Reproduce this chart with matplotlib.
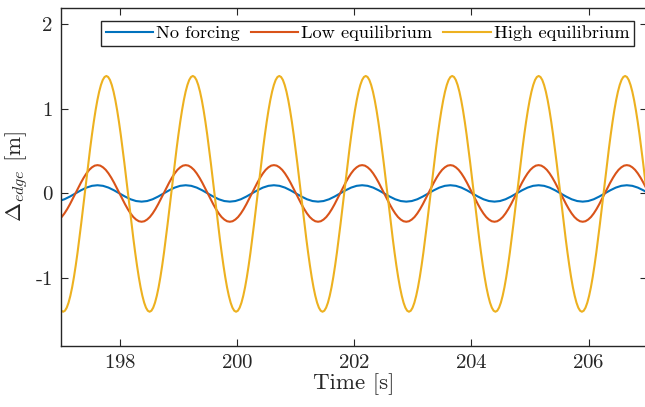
import numpy as np
import matplotlib
matplotlib.use("Agg")
import matplotlib.pyplot as plt

t_high_start = 196.9735   # s, first sample of the high-equilibrium trace
t_high_step = 0.030729    # s
high_eq = [
    -1.352, -1.388,
    -1.400, -1.388, -1.352, -1.293, -1.212, -1.111, -0.990, -0.852, -0.700, -0.536, -0.362, -0.183, 0.0, 0.181, 0.360, 0.532, 0.695, 0.846, 0.983, 1.103, 1.204, 1.284, 1.343, 1.378,
    1.390, 1.378, 1.343, 1.284, 1.204, 1.103, 0.983, 0.846, 0.695, 0.532, 0.360, 0.181, 0.0, -0.183, -0.362, -0.536, -0.700, -0.852, -0.990, -1.111, -1.212, -1.293, -1.352, -1.388,
    -1.400, -1.388, -1.352, -1.293, -1.212, -1.111, -0.990, -0.852, -0.700, -0.536, -0.362, -0.183, 0.0, 0.181, 0.360, 0.532, 0.695, 0.846, 0.983, 1.103, 1.204, 1.284, 1.343, 1.378,
    1.390, 1.378, 1.343, 1.284, 1.204, 1.103, 0.983, 0.846, 0.695, 0.532, 0.360, 0.181, 0.0, -0.183, -0.362, -0.536, -0.700, -0.852, -0.990, -1.111, -1.212, -1.293, -1.352, -1.388,
    -1.400, -1.388, -1.352, -1.293, -1.212, -1.111, -0.990, -0.852, -0.700, -0.536, -0.362, -0.183, 0.0, 0.181, 0.360, 0.532, 0.695, 0.846, 0.983, 1.103, 1.204, 1.284, 1.343, 1.378,
    1.390, 1.378, 1.343, 1.284, 1.204, 1.103, 0.983, 0.846, 0.695, 0.532, 0.360, 0.181, 0.0, -0.183, -0.362, -0.536, -0.700, -0.852, -0.990, -1.111, -1.212, -1.293, -1.352, -1.388,
    -1.400, -1.388, -1.352, -1.293, -1.212, -1.111, -0.990, -0.852, -0.700, -0.536, -0.362, -0.183, 0.0, 0.181, 0.360, 0.532, 0.695, 0.846, 0.983, 1.103, 1.204, 1.284, 1.343, 1.378,
    1.390, 1.378, 1.343, 1.284, 1.204, 1.103, 0.983, 0.846, 0.695, 0.532, 0.360, 0.181, 0.0, -0.183, -0.362, -0.536, -0.700, -0.852, -0.990, -1.111, -1.212, -1.293, -1.352, -1.388,
    -1.400, -1.388, -1.352, -1.293, -1.212, -1.111, -0.990, -0.852, -0.700, -0.536, -0.362, -0.183, 0.0, 0.181, 0.360, 0.532, 0.695, 0.846, 0.983, 1.103, 1.204, 1.284, 1.343, 1.378,
    1.390, 1.378, 1.343, 1.284, 1.204, 1.103, 0.983, 0.846, 0.695, 0.532, 0.360, 0.181, 0.0, -0.183, -0.362, -0.536, -0.700, -0.852, -0.990, -1.111, -1.212, -1.293, -1.352, -1.388,
    -1.400, -1.388, -1.352, -1.293, -1.212, -1.111, -0.990, -0.852, -0.700, -0.536, -0.362, -0.183, 0.0, 0.181, 0.360, 0.532, 0.695, 0.846, 0.983, 1.103, 1.204, 1.284, 1.343, 1.378,
    1.390, 1.378, 1.343, 1.284, 1.204, 1.103, 0.983, 0.846, 0.695, 0.532, 0.360, 0.181, 0.0, -0.183, -0.362, -0.536, -0.700, -0.852, -0.990, -1.111, -1.212, -1.293, -1.352, -1.388,
    -1.400, -1.388, -1.352, -1.293, -1.212, -1.111, -0.990, -0.852, -0.700, -0.536, -0.362, -0.183, 0.0, 0.181, 0.360, 0.532, 0.695, 0.846, 0.983, 1.103, 1.204, 1.284, 1.343, 1.378,
    1.390, 1.378, 1.343, 1.284, 1.204, 1.103, 0.983, 0.846, 0.695, 0.532, 0.360, 0.181, 0.0, -0.183, -0.362, -0.536, -0.700, -0.852, -0.990, -1.111, -1.212, -1.293, -1.352, -1.388,
    -1.400, -1.388, -1.352, -1.293, -1.212, -1.111, -0.990, -0.852, -0.700, -0.536, -0.362, -0.183, 0.0, 0.181, 0.360, 0.532, 0.695, 0.846, 0.983, 1.103, 1.204, 1.284, 1.343, 1.378,
    1.390, 1.378, 1.343, 1.284, 1.204, 1.103, 0.983, 0.846, 0.695, 0.532, 0.360, 0.181, 0.0, -0.183, -0.362,
]

t_low_start = 196.9626    # s, first sample of the low-equilibrium trace
t_low_step = 0.0470315    # s
low_eq = [
    -0.309, -0.279, -0.237, -0.186, -0.128, -0.065, 0.0, 0.065, 0.128, 0.186, 0.237, 0.279, 0.309, 0.329,
    0.335, 0.329, 0.309, 0.279, 0.237, 0.186, 0.128, 0.065, 0.0, -0.065, -0.128, -0.186, -0.237, -0.279, -0.309, -0.329,
    -0.335, -0.329, -0.309, -0.279, -0.237, -0.186, -0.128, -0.065, 0.0, 0.065, 0.128, 0.186, 0.237, 0.279, 0.309, 0.329,
    0.335, 0.329, 0.309, 0.279, 0.237, 0.186, 0.128, 0.065, 0.0, -0.065, -0.128, -0.186, -0.237, -0.279, -0.309, -0.329,
    -0.335, -0.329, -0.309, -0.279, -0.237, -0.186, -0.128, -0.065, 0.0, 0.065, 0.128, 0.186, 0.237, 0.279, 0.309, 0.329,
    0.335, 0.329, 0.309, 0.279, 0.237, 0.186, 0.128, 0.065, 0.0, -0.065, -0.128, -0.186, -0.237, -0.279, -0.309, -0.329,
    -0.335, -0.329, -0.309, -0.279, -0.237, -0.186, -0.128, -0.065, 0.0, 0.065, 0.128, 0.186, 0.237, 0.279, 0.309, 0.329,
    0.335, 0.329, 0.309, 0.279, 0.237, 0.186, 0.128, 0.065, 0.0, -0.065, -0.128, -0.186, -0.237, -0.279, -0.309, -0.329,
    -0.335, -0.329, -0.309, -0.279, -0.237, -0.186, -0.128, -0.065, 0.0, 0.065, 0.128, 0.186, 0.237, 0.279, 0.309, 0.329,
    0.335, 0.329, 0.309, 0.279, 0.237, 0.186, 0.128, 0.065, 0.0, -0.065, -0.128, -0.186, -0.237, -0.279, -0.309, -0.329,
    -0.335, -0.329, -0.309, -0.279, -0.237, -0.186, -0.128, -0.065, 0.0, 0.065, 0.128, 0.186, 0.237, 0.279, 0.309, 0.329,
    0.335, 0.329, 0.309, 0.279, 0.237, 0.186, 0.128, 0.065, 0.0, -0.065, -0.128, -0.186, -0.237, -0.279, -0.309, -0.329,
    -0.335, -0.329, -0.309, -0.279, -0.237, -0.186, -0.128, -0.065, 0.0, 0.065, 0.128, 0.186, 0.237, 0.279, 0.309, 0.329,
    0.335, 0.329, 0.309, 0.279, 0.237, 0.186, 0.128, 0.065, 0.0, -0.065, -0.128,
]

t_none_start = 196.9626   # s, first sample of the no-forcing trace
t_none_step = 0.094063    # s
no_forcing = [
    -0.090, -0.069, -0.037, 0.0, 0.037, 0.069, 0.090,
    0.097, 0.090, 0.069, 0.037, 0.0, -0.037, -0.069, -0.090, -0.097, -0.090, -0.069, -0.037, 0.0, 0.037, 0.069, 0.090,
    0.097, 0.090, 0.069, 0.037, 0.0, -0.037, -0.069, -0.090, -0.097, -0.090, -0.069, -0.037, 0.0, 0.037, 0.069, 0.090,
    0.097, 0.090, 0.069, 0.037, 0.0, -0.037, -0.069, -0.090, -0.097, -0.090, -0.069, -0.037, 0.0, 0.037, 0.069, 0.090,
    0.097, 0.090, 0.069, 0.037, 0.0, -0.037, -0.069, -0.090, -0.097, -0.090, -0.069, -0.037, 0.0, 0.037, 0.069, 0.090,
    0.097, 0.090, 0.069, 0.037, 0.0, -0.037, -0.069, -0.090, -0.097, -0.090, -0.069, -0.037, 0.0, 0.037, 0.069, 0.090,
    0.097, 0.090, 0.069, 0.037, 0.0, -0.037, -0.069, -0.090, -0.097, -0.090, -0.069, -0.037, 0.0, 0.037, 0.069, 0.090,
    0.097, 0.090, 0.069, 0.037, 0.0, -0.037,
]

labels = ["No forcing", "Low equilibrium", "High equilibrium"]
colors = ["#0072BD", "#D95319", "#EDB120"]
xticks = [198, 200, 202, 204, 206]
yticks = [-1, 0, 1, 2]
ytick_labels = ["-1", "0", "1", "2"]

t_high = t_high_start + t_high_step * np.arange(len(high_eq))
t_low = t_low_start + t_low_step * np.arange(len(low_eq))
t_none = t_none_start + t_none_step * np.arange(len(no_forcing))

plt.rcParams["font.family"] = "serif"
plt.rcParams["font.serif"] = ["cmr10"]
plt.rcParams["mathtext.fontset"] = "cm"
plt.rcParams["axes.formatter.use_mathtext"] = True

axis_color = "#262626"

fig = plt.figure(figsize=(6.45, 4.07), dpi=100)
ax = fig.add_axes([0.0947, 0.151, 0.9088, 0.8305])

ax.plot(t_none, no_forcing, color=colors[0], lw=1.5, label=labels[0])
ax.plot(t_low, low_eq, color=colors[1], lw=1.5, label=labels[1])
ax.plot(t_high, high_eq, color=colors[2], lw=1.5, label=labels[2])

ax.set_xlim(197, 207)
ax.set_ylim(-1.8, 2.2)
ax.set_xticks(xticks)
ax.set_yticks(yticks)
ax.set_yticklabels(ytick_labels)
ax.tick_params(direction="in", length=5, width=0.8, top=True, right=True,
               labelsize=15, colors=axis_color, labelcolor=axis_color, pad=6)
for sp in ax.spines.values():
    sp.set_color(axis_color)
    sp.set_linewidth(1.0)

ax.set_xlabel("Time [s]", fontsize=16.5, color=axis_color, labelpad=1)
ax.set_ylabel(r"$\Delta_{edge}$ [m]", fontsize=16.5, color=axis_color, labelpad=3)

leg = ax.legend(loc="upper right", bbox_to_anchor=(0.977, 0.961), borderaxespad=0,
                ncol=3, fontsize=13.2, handlelength=2.6, handletextpad=0.15,
                columnspacing=0.6, borderpad=0.25, fancybox=False, framealpha=1)
leg.get_frame().set_edgecolor(axis_color)
leg.get_frame().set_linewidth(1.0)

fig.savefig("out.png", dpi=100)
